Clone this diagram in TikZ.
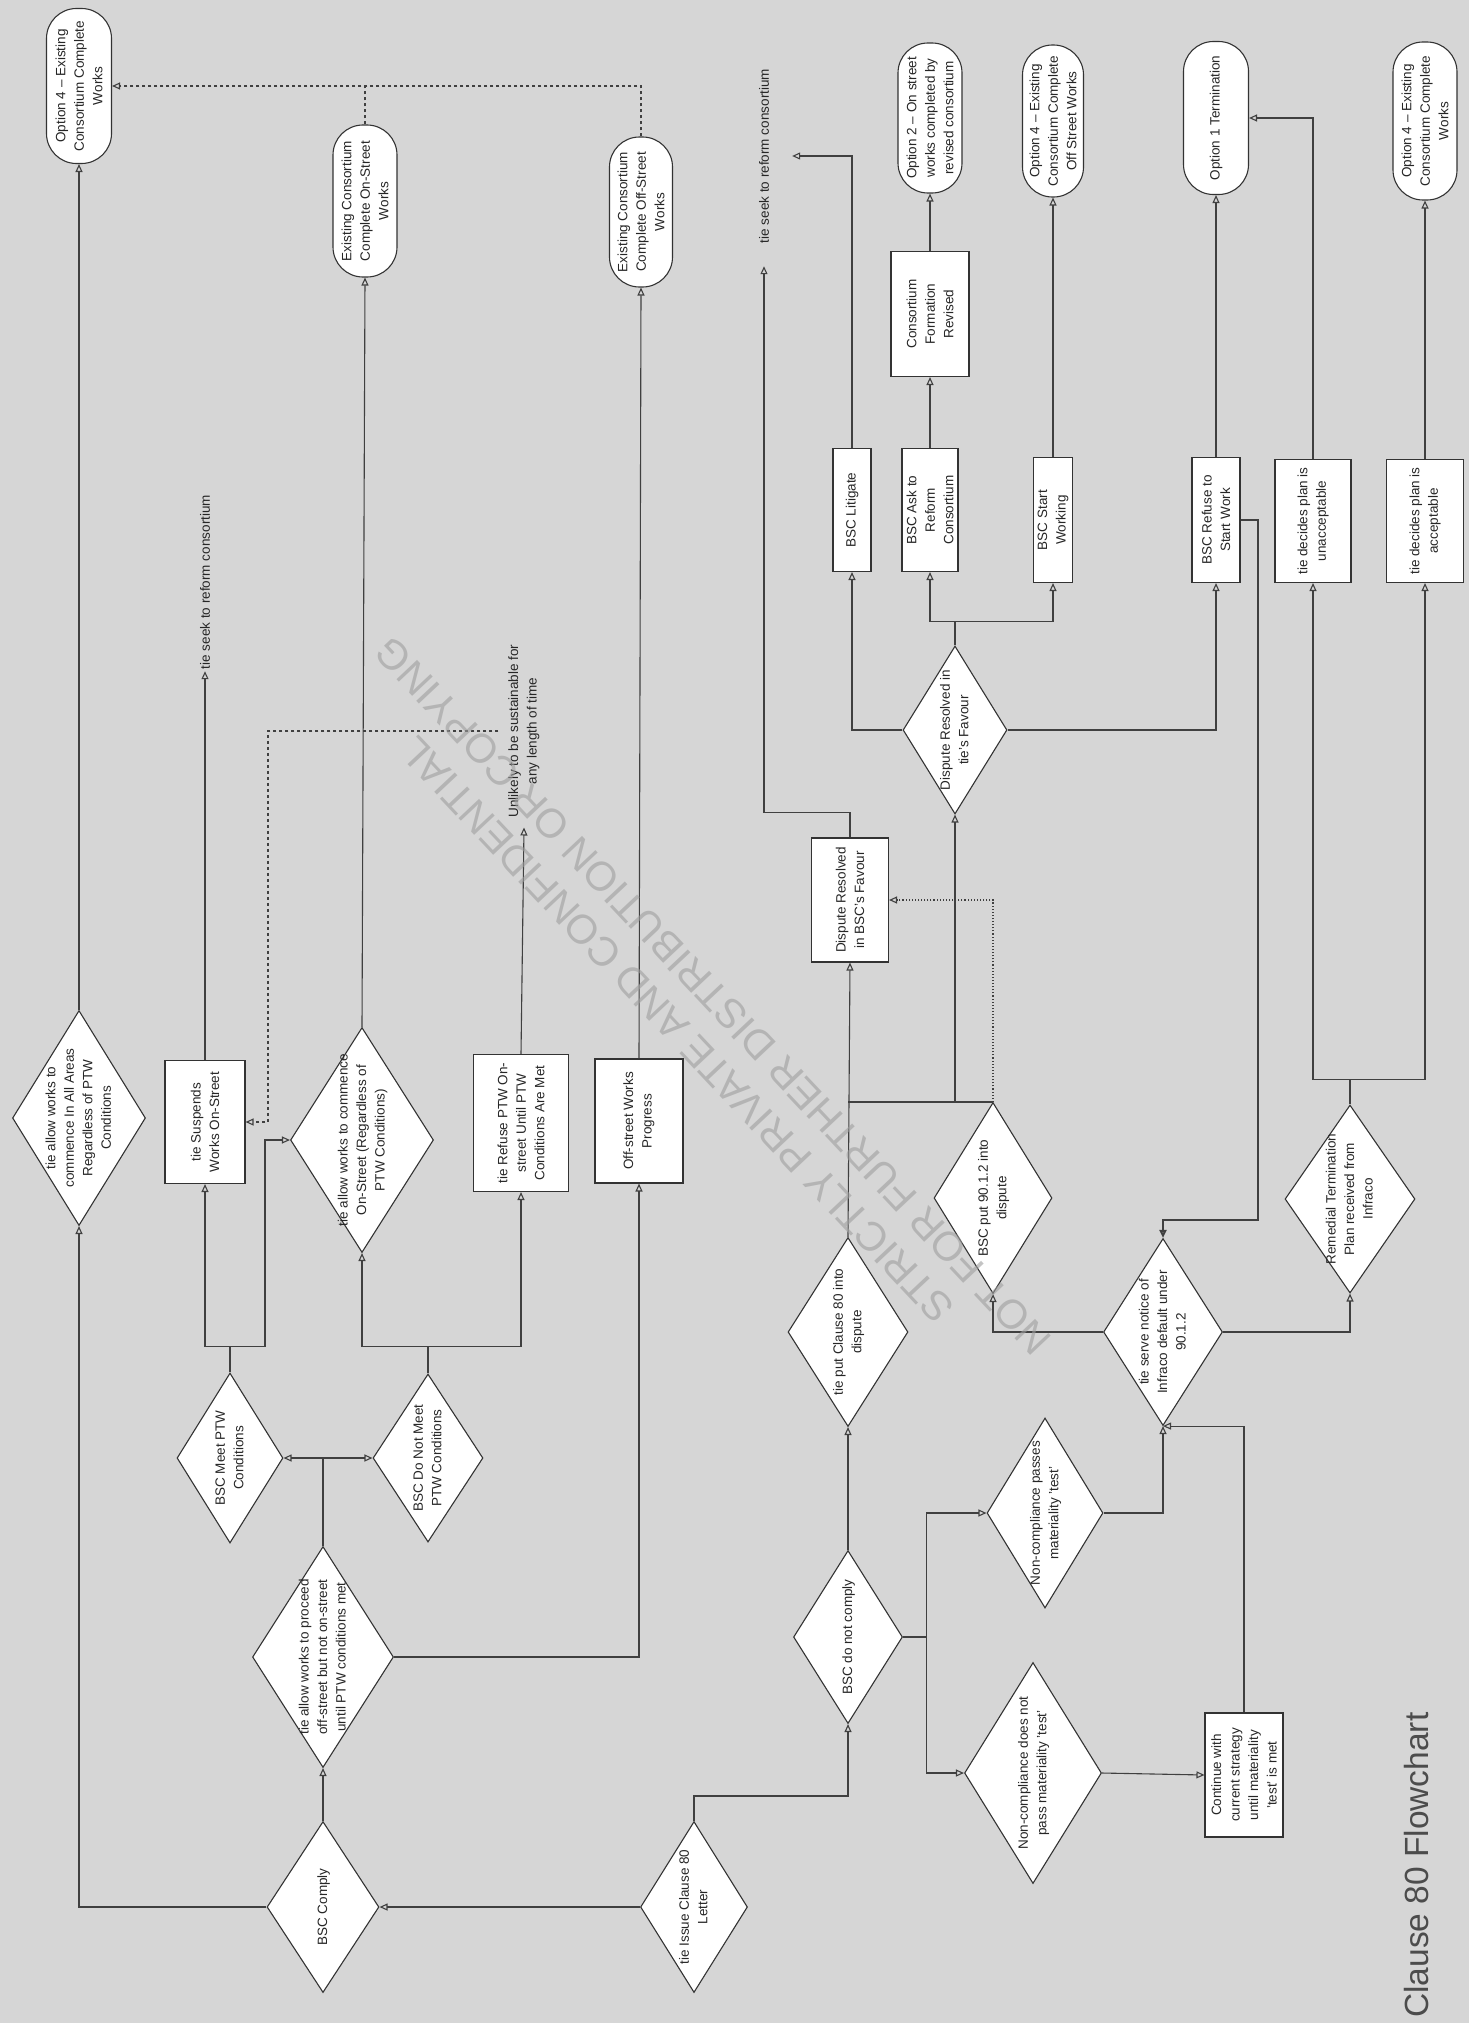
\documentclass[tikz,border=0pt]{standalone}
\usepackage{fontspec}
\setmainfont{Liberation Sans}
\usetikzlibrary{shapes.geometric,arrows.meta}
\newcommand\dtx[1]{\makebox[0pt]{\smash{\raisebox{-0.3em}{\begin{tabular}{@{}c@{}}#1\end{tabular}}}}}
\begin{document}
\begin{tikzpicture}[x=1pt,y=-1pt,
  fnt/.style={font=\fontsize{13.5}{18.5}\selectfont},
  base/.style={draw=black!80, line width=1.1pt, fill=white, rotate=90, inner sep=1pt, align=center, text=black!85, fnt},
  sz/.style 2 args={minimum height=#1, minimum width=#2},
  box/.style={base, rectangle},
  term/.style={base, rectangle, rounded corners=30pt},
  dia/.style={base, diamond, inner sep=0pt},
  txt/.style={rotate=90, align=center, text=black!85, fnt},
  ln/.style={draw=black!75, line width=1.1pt},
  arr/.style={ln, -{Triangle[open, length=8pt, width=7pt]}},
  wm/.style={rotate=133.2, font=\fontsize{41}{48}\selectfont, text=black!38, text opacity=0.6}
]
\useasboundingbox (0,0) rectangle (1469,2023);
\fill[black!16] (0,0) rectangle (1469,2023);

% terminators
\node[term, sz={65}{155}] (opt4a) at (79,86) {Option 4 – Existing\\Consortium Complete\\Works};
\node[term, sz={64}{152}] (exOn) at (365,201) {Existing Consortium\\Complete On-Street\\Works};
\node[term, sz={63}{150}] (exOff) at (641,212) {Existing Consortium\\Complete Off-Street\\Works};
\node[term, sz={64}{150}] (opt2) at (930,118) {Option 2 – On street\\works completed by\\revised consortium};
\node[term, sz={61}{152}] (opt4b) at (1053,121) {Option 4 – Existing\\Consortium Complete\\Off Street Works};
\node[term, sz={65}{153}] (opt1) at (1216,118) {Option 1 Termination};
\node[term, sz={64}{158}] (opt4c) at (1425,121) {Option 4 – Existing\\Consortium Complete\\Works};

% boxes
\node[box, sz={78}{125}] (consRev) at (930,314) {Consortium\\Formation\\Revised};
\node[box, sz={38}{123}] (litigate) at (852,510) {BSC Litigate};
\node[box, sz={56}{123}] (askReform) at (930,510) {BSC Ask to\\Reform\\Consortium};
\node[box, sz={39}{125}] (startW) at (1053,520) {BSC Start\\Working};
\node[box, sz={48}{125}] (refuse) at (1216,520) {BSC Refuse to\\Start Work};
\node[box, sz={76}{123}] (unacc) at (1313,521) {tie decides plan is\\unacceptable};
\node[box, sz={77}{123}] (acc) at (1425,521) {tie decides plan is\\acceptable};
\node[box, sz={80}{123}] (suspends) at (205,1122) {tie Suspends\\Works On-Street};
\node[box, sz={95}{137}] (refusePTW) at (521,1123) {tie Refuse PTW On-\\street Until PTW\\Conditions Are Met};
\node[box, sz={88}{124}] (offProg) at (639,1121) {Off-street Works\\Progress};
\node[box, sz={77}{124}] (bscFav) at (850,900) {Dispute Resolved\\in BSC's Favour};
\node[box, sz={78}{124}] (cont) at (1244,1775) {Continue with\\current strategy\\until materiality\\'test' is met};

% diamonds
\node[dia, sz={133}{215}] (allowAll) at (79,1118) {\dtx{tie allow works to\\commence In All Areas\\Regardless of PTW\\Conditions}};
\node[dia, sz={143}{225}] (allowOn) at (362,1140) {\dtx{tie allow works to commence\\On-Street (Regardless of\\PTW Conditions)}};
\node[dia, sz={106}{170}] (meet) at (230,1458) {\dtx{BSC Meet PTW\\Conditions}};
\node[dia, sz={110}{168}] (notMeet) at (428,1458) {\dtx{BSC Do Not Meet\\PTW Conditions}};
\node[dia, sz={141}{221}] (allowOff) at (323,1657) {\dtx{tie allow works to proceed\\off-street but not on-street\\until PTW conditions met}};
\node[dia, sz={112}{171}] (comply) at (323,1907) {\dtx{BSC Comply}};
\node[dia, sz={107}{171}] (issue) at (694,1907) {\dtx{tie Issue Clause 80\\Letter}};
\node[dia, sz={109}{173}] (noComply) at (848,1637) {\dtx{BSC do not comply}};
\node[dia, sz={120}{189}] (putDispute) at (848,1332) {\dtx{tie put Clause 80 into\\dispute}};
\node[dia, sz={104}{168}] (tieFav) at (955,730) {\dtx{Dispute Resolved in\\tie's Favour}};
\node[dia, sz={118}{191}] (put90) at (993,1198) {\dtx{BSC put 90.1.2 into\\dispute}};
\node[dia, sz={119}{187}] (serve) at (1163,1332) {\dtx{tie serve notice of\\Infraco default under\\90.1.2}};
\node[dia, sz={130}{188}] (remedial) at (1350,1199) {\dtx{Remedial Termination\\Plan received from\\Infraco}};
\node[dia, sz={116}{190}] (passes) at (1045,1513) {\dtx{Non-compliance passes\\materiality 'test'}};
\node[dia, sz={137}{221}] (notPass) at (1033,1773) {\dtx{Non-compliance does not\\pass materiality 'test'}};

% free texts
\node[txt, inner sep=2pt] (seek2) at (205,582) {tie seek to reform consortium};
\node[txt, inner sep=23pt] (seek1) at (764,156) {tie seek to reform consortium};
\node[txt, inner sep=10pt] (unlikely) at (524,731) {Unlikely to be sustainable for\\any length of time};

% connectors
\draw[arr] (issue.north) -- (comply.south);
\draw[arr] (issue.east) -- ++(0,-25) -| (noComply.west);
\draw[arr] (comply.north) -| (allowAll.west);
\draw[arr] (allowAll.east) -- (opt4a.west);
\draw[arr] (comply.east) -- (allowOff.west);
\draw[ln] (allowOff.east) -- (allowOff.east |- meet.south) coordinate (j1);
\draw[arr] (j1) -- (meet.south);
\draw[arr] (j1) -- (notMeet.north);
\draw[arr] (allowOff.south) -| (offProg.west);
\draw[ln] (meet.east) -- ++(0,-26) coordinate (j2);
\draw[arr] (j2) -| (suspends.west);
\draw[arr] (j2) -- ++(35,0) |- (allowOn.north);
\draw[ln] (notMeet.east) -- ++(0,-27) coordinate (j3);
\draw[arr] (j3) -| (allowOn.west);
\draw[arr] (j3) -| (refusePTW.west);
\draw[arr] (allowOn.east) -- (exOn.west);
\draw[arr] (suspends.east) -- (seek2.west);
\draw[arr] (refusePTW.east) -- (unlikely.west);
\draw[arr, dashed] (unlikely.north) -| (268,1122) -- (suspends.south);
\draw[arr] (offProg.east) -- (exOff.west);
\draw[arr, dashed] (exOff.east) |- (opt4a.south);
\draw[ln, dashed] (exOn.east) -- (exOn.east |- opt4a.south);
\draw[arr] (noComply.east) -- (putDispute.west);
\draw[ln] (noComply.south) -- ++(23,0) coordinate (j4);
\draw[arr] (j4) |- (passes.north);
\draw[arr] (j4) |- (notPass.north);
\draw[arr] (putDispute.east) -- (bscFav.west);
\draw[ln] (put90.east) -- (put90.east -| putDispute.east);
\draw[arr] (tieFav.west |- put90.east) -- (tieFav.west);
\draw[arr, dotted] (put90.east) |- (bscFav.south);
\draw[arr] (serve.north) -| (put90.west);
\draw[arr] (bscFav.east) -- ++(0,-25) -| (seek1.west);
\draw[arr] (litigate.east) |- (seek1.south);
\draw[arr] (tieFav.north) -| (litigate.west);
\draw[ln] (tieFav.east) -- ++(0,-24) coordinate (j5);
\draw[arr] (j5) -| (askReform.west);
\draw[arr] (j5) -| (startW.west);
\draw[arr] (tieFav.south) -| (refuse.west);
\draw[arr] (askReform.east) -- (consRev.west);
\draw[arr] (consRev.east) -- (opt2.west);
\draw[arr] (startW.east) -- (opt4b.west);
\draw[arr] (refuse.east) -- (opt1.west);
\draw[arr, line width=2pt] (refuse.south) -- ++(17,0) -- ++(0,700) -| (serve.east);
\draw[arr] (unacc.east) |- (opt1.south);
\draw[arr] (acc.east) -- (opt4c.west);
\draw[ln] (remedial.east) -- ++(0,-25) coordinate (j6);
\draw[arr] (j6) -| (unacc.west);
\draw[arr] (j6) -| (acc.west);
\draw[arr] (serve.south) -| (remedial.west);
\draw[arr] (passes.south) -| (serve.west);
\draw[arr] (cont.east) |- (serve.west);
\draw[arr] (notPass.south) -- (cont.north);

% title
\node[rotate=90, anchor=base west, font=\fontsize{33.5}{40}\selectfont, text=black!70, inner sep=0pt] (title) at (1428,2018) {Clause 80 Flowchart};

% watermark
\node[wm] (wm1) at (677,1030) {STRICTLY PRIVATE AND CONFIDENTIAL};
\node[wm] (wm2) at (713,996) {NOT FOR FURTHER DISTRIBUTION OR COPYING};
\end{tikzpicture}
\end{document}
